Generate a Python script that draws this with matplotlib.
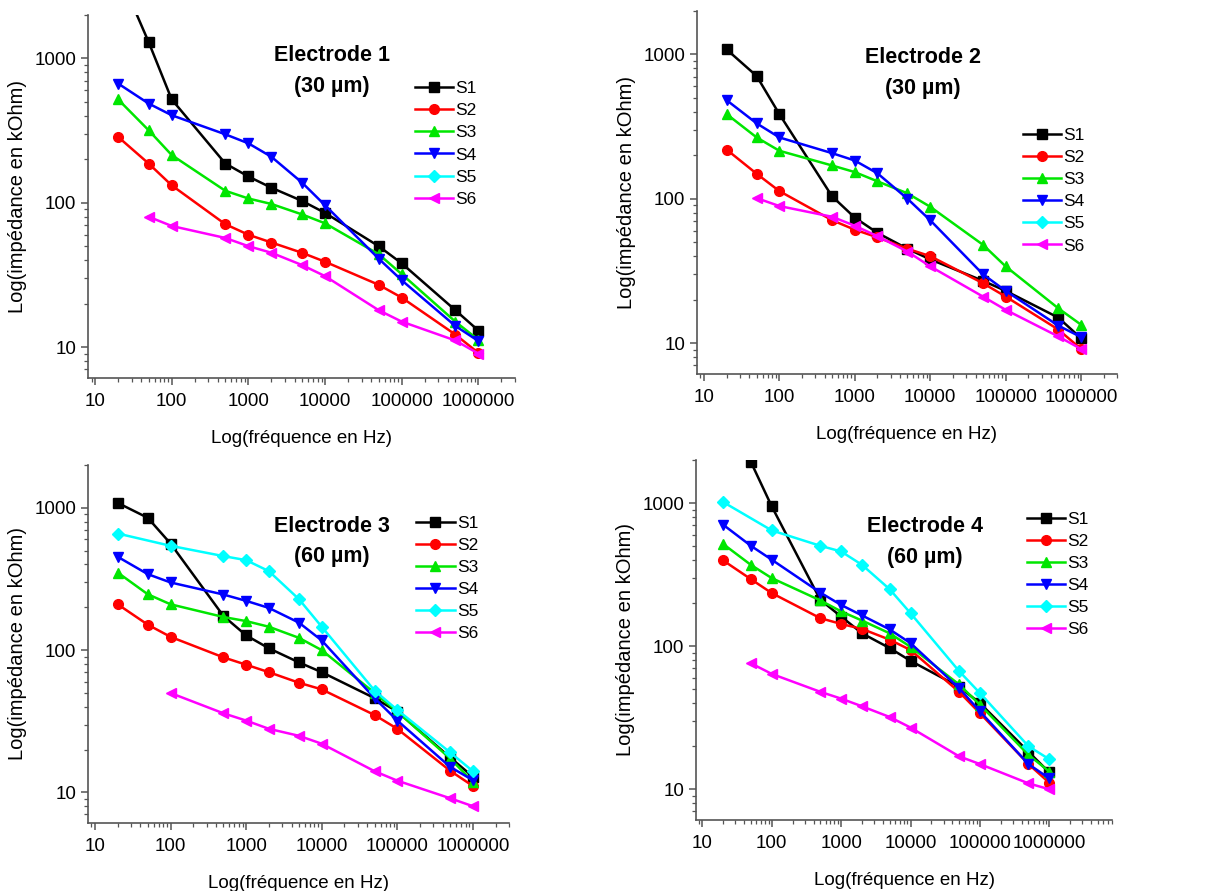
import numpy as np
import matplotlib.pyplot as plt
from matplotlib.ticker import LogLocator, FuncFormatter, NullFormatter

plt.rcParams['font.family'] = ['Liberation Sans', 'DejaVu Sans']

# frequences (Hz)
f_all = [20, 50, 100, 500, 1000, 2000, 5000, 10000, 50000, 100000, 500000, 1000000]
f_50 = [50, 100, 500, 1000, 2000, 5000, 10000, 50000, 100000, 500000, 1000000]
f_100 = [100, 500, 1000, 2000, 5000, 10000, 50000, 100000, 500000, 1000000]
f_no50 = [20, 100, 500, 1000, 2000, 5000, 10000, 50000, 100000, 500000, 1000000]

# Electrode 1 (30 µm)
e1_s1 = [4000, 1300, 520, 187, 152, 127, 103, 85, 50, 38, 18, 13]
e1_s2 = [286, 187, 132, 71, 60, 53, 45, 39, 27, 22, 12.2, 9.1]
e1_s3 = [520, 318, 214, 121, 107, 98, 83, 72, 44, 32, 15, 11.2]
e1_s4 = [670, 487, 404, 298, 258, 208, 138, 96, 41, 29, 14, 11]
e1_s6 = [80, 69, 57, 50, 45, 37, 31, 18, 15, 11.1, 9.0]

# Electrode 2 (30 µm)
e2_s1 = [1083, 709, 386, 104, 74, 58, 45, 38, 27, 23, 15, 10.8]
e2_s2 = [219, 149, 113, 71, 61, 54, 45, 40, 26, 21, 12.4, 9.1]
e2_s3 = [386, 266, 215, 170, 153, 132, 109, 88, 48, 34, 17.4, 13.4]
e2_s4 = [482, 333, 266, 207, 184, 150, 100, 71, 30, 23, 13.2, 11]
e2_s6 = [101, 89, 75, 65, 55, 43, 34, 21, 17, 11.1, 9.1]

# Electrode 3 (60 µm)
e3_s1 = [1084, 851, 561, 174, 127, 103, 82, 70, 46, 37, 17.6, 12.9]
e3_s2 = [210, 151, 124, 89, 79, 70, 59, 53, 35, 28, 14.2, 11.1]
e3_s3 = [351, 247, 210, 171, 160, 146, 122, 100, 50, 37, 17.3, 11.9]
e3_s4 = [453, 342, 299, 246, 222, 198, 156, 117, 46, 32, 15.1, 12.2]
e3_s5 = [660, 541, 458, 429, 359, 228, 146, 52, 38, 19.1, 14.1]
e3_s6 = [50, 36, 32, 28, 25, 22, 14.1, 12.1, 9.1, 8.0]

# Electrode 4 (60 µm)
e4_s1 = [1940, 948, 211, 161, 123, 97, 79, 52, 40, 18.3, 13.1]
e4_s2 = [397, 294, 235, 157, 143, 132, 111, 94, 48, 34, 15, 11.1]
e4_s3 = [517, 370, 299, 209, 175, 151, 123, 99, 54, 39, 17.4, 13.3]
e4_s4 = [705, 503, 402, 237, 194, 164, 131, 105, 51, 35, 15, 11.9]
e4_s5 = [1016, 644, 503, 459, 370, 250, 170, 67, 47, 20, 16.2]
e4_s6 = [76, 64, 48, 43, 38, 32, 27, 17, 15, 11, 10]

styles = {
    "S1": ("black", "s", 6.5),
    "S2": ("#ff0000", "o", 7),
    "S3": ("#00e600", "^", 7.5),
    "S4": ("#0000ff", "v", 7.5),
    "S5": ("#00ffff", "D", 6.5),
    "S6": ("#ff00ff", "<", 7.5),
}

panels = [
    ("Electrode 1\n(30 µm)", [88, 515, 15, 378], (0.571, 0.846), (0.765, 0.818), 3e6,
     {"S1": (f_all, e1_s1), "S2": (f_all, e1_s2), "S3": (f_all, e1_s3),
      "S4": (f_all, e1_s4), "S5": ([], []), "S6": (f_50, e1_s6)}),
    ("Electrode 2\n(30 µm)", [697, 1117, 11, 374], (0.538, 0.83), (0.775, 0.678), 3e6,
     {"S1": (f_all, e2_s1), "S2": (f_all, e2_s2), "S3": (f_all, e2_s3),
      "S4": (f_all, e2_s4), "S5": ([], []), "S6": (f_50, e2_s6)}),
    ("Electrode 3\n(60 µm)", [88, 509, 465, 823], (0.58, 0.786), (0.78, 0.858), 3e6,
     {"S1": (f_all, e3_s1), "S2": (f_all, e3_s2), "S3": (f_all, e3_s3),
      "S4": (f_all, e3_s4), "S5": (f_no50, e3_s5), "S6": (f_100, e3_s6)}),
    ("Electrode 4\n(60 µm)", [696, 1112, 460, 820], (0.55, 0.773), (0.795, 0.856), 8e6,
     {"S1": (f_50, e4_s1), "S2": (f_all, e4_s2), "S3": (f_all, e4_s3),
      "S4": (f_all, e4_s4), "S5": (f_no50, e4_s5), "S6": (f_50, e4_s6)}),
]

W, H = 1211, 891
fig = plt.figure(figsize=(W / 100, H / 100), dpi=100)

for title, (l, r, t, b), tpos, lpos, xmax, series in panels:
    ax = fig.add_axes([l / W, 1 - b / H, (r - l) / W, (b - t) / H])
    for name, (x, y) in series.items():
        c, m, ms = styles[name]
        ax.plot(x, y, color=c, marker=m, markersize=ms, lw=1.8, label=name)
    ax.set_xscale("log")
    ax.set_yscale("log")
    ax.set_xlim(8.1, xmax)
    ax.set_ylim(6.1, 2000)
    ax.spines["top"].set_visible(False)
    ax.spines["right"].set_visible(False)
    for s in ["left", "bottom"]:
        ax.spines[s].set_color("#555555")
        ax.spines[s].set_linewidth(1.2)
    ax.xaxis.set_major_locator(LogLocator(base=10, numticks=10))
    ax.xaxis.set_minor_locator(LogLocator(base=10, subs=np.arange(2, 10), numticks=10))
    ax.yaxis.set_minor_locator(LogLocator(base=10, subs=np.arange(2, 10), numticks=10))
    fmt = FuncFormatter(lambda v, p: "%d" % round(v))
    ax.xaxis.set_major_formatter(fmt)
    ax.yaxis.set_major_formatter(fmt)
    ax.xaxis.set_minor_formatter(NullFormatter())
    ax.yaxis.set_minor_formatter(NullFormatter())
    ax.tick_params(which="major", direction="out", length=5, width=1.1, colors="#555555",
                   labelsize=13.5, labelcolor="black")
    ax.tick_params(axis="x", which="major", pad=6)
    ax.tick_params(which="minor", direction="out", length=3, width=0.9, colors="#555555")
    ax.set_xlabel("Log(fréquence en Hz)", fontsize=13.5, labelpad=14)
    ax.set_ylabel("Log(impédance en kOhm)", fontsize=14.5, labelpad=5)
    ax.text(tpos[0], tpos[1], title, transform=ax.transAxes, ha="center", va="center",
            fontsize=15.5, fontweight="bold", linespacing=1.6)
    ax.legend(loc="upper left", bbox_to_anchor=lpos, frameon=False, fontsize=12.5,
              handlelength=2.2, handletextpad=0.15, labelspacing=0.4, borderpad=0,
              borderaxespad=0)

fig.savefig("out.png", dpi=100)
